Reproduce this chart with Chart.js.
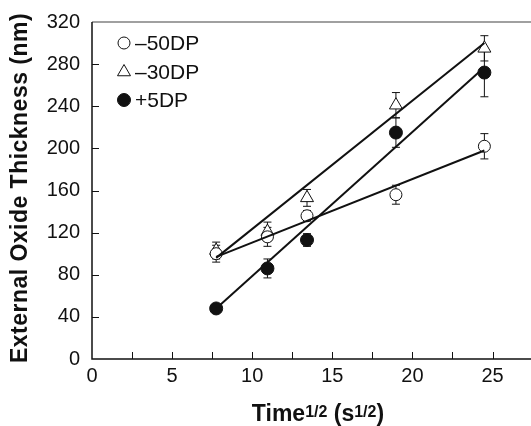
<!DOCTYPE html>
<html>
<head>
<meta charset="utf-8">
<script src="https://cdn.jsdelivr.net/npm/chart.js@4.4.1/dist/chart.umd.min.js"></script>
<style>
  html, body { margin: 0; padding: 0; background: #fff; overflow: hidden; }
  #wrap { width: 531px; height: 426px; }
</style>
</head>
<body>
<div id="wrap"><canvas id="chart"></canvas></div>
<script>
/* global Chart */
// sqrt(time) values (s^1/2)
const timeRoot = [7.75, 10.95, 13.42, 18.97, 24.49];

const m50Thickness = [100, 116, 136, 156, 202];
const m50Err = [8, 9, 5, 9, 12];
const m30Thickness = [103, 121, 153, 241, 295];
const m30Err = [8, 9, 8, 12, 12];
const p5Thickness = [48, 86, 113, 215, 272];
const p5Err = [2, 9, 6, 14, 23];

// linear fit end points
const fitX = [7.75, 24.49];
const m50Fit = [97, 198];
const m30Fit = [96, 300];
const p5Fit = [48, 277];

const xTickLabels = [0, 5, 10, 15, 20, 25];
const xTickMarks = [2.5, 5, 7.5, 10, 12.5, 15, 17.5, 20, 22.5, 25];
const yTickMarks = [40, 80, 120, 160, 200, 240, 280];

const seriesNames = ["\u201350DP", "\u201330DP", "+5DP"];

const FONT = "'Liberation Sans', Arial, sans-serif";

function pts(ys) {
  return ys.map((y, i) => ({ x: timeRoot[i], y: y }));
}
function fitPts(ys) {
  return ys.map((y, i) => ({ x: fitX[i], y: y }));
}

const markerStyles = [
  { pointStyle: "circle", radius: 6, fill: "#fff" },
  { pointStyle: "triangle", radius: 7.5, fill: "#fff" },
  { pointStyle: "circle", radius: 6.5, fill: "#111" },
];

const errorSets = [m50Err, m30Err, p5Err];

const axesPlugin = {
  id: "axesPlugin",
  beforeDatasetsDraw(chart) {
    const { ctx } = chart;
    const xs = chart.scales.x;
    const ys = chart.scales.y;
    ctx.save();
    // error bars
    ctx.strokeStyle = "#111";
    ctx.lineWidth = 1;
    [0, 1, 2].forEach((d) => {
      const data = chart.data.datasets[d].data;
      data.forEach((p, i) => {
        const e = errorSets[d][i];
        const px = xs.getPixelForValue(p.x);
        const top = ys.getPixelForValue(p.y + e);
        const bot = ys.getPixelForValue(p.y - e);
        ctx.beginPath();
        ctx.moveTo(px, top);
        ctx.lineTo(px, bot);
        ctx.moveTo(px - 4, top);
        ctx.lineTo(px + 4, top);
        ctx.moveTo(px - 4, bot);
        ctx.lineTo(px + 4, bot);
        ctx.stroke();
      });
    });
    ctx.restore();
  },
  afterDraw(chart) {
    const { ctx, chartArea } = chart;
    const xs = chart.scales.x;
    const ys = chart.scales.y;
    ctx.save();
    // top border (grey)
    ctx.strokeStyle = "#808080";
    ctx.lineWidth = 1.5;
    ctx.beginPath();
    ctx.moveTo(chartArea.left, chartArea.top);
    ctx.lineTo(chartArea.right, chartArea.top);
    ctx.stroke();
    // left + bottom axes
    ctx.strokeStyle = "#111";
    ctx.lineWidth = 1.5;
    ctx.beginPath();
    ctx.moveTo(chartArea.left, chartArea.top);
    ctx.lineTo(chartArea.left, chartArea.bottom);
    ctx.lineTo(chartArea.right, chartArea.bottom);
    ctx.stroke();
    // inward ticks
    ctx.lineWidth = 1;
    ctx.beginPath();
    xTickMarks.forEach((v) => {
      const px = Math.round(xs.getPixelForValue(v)) + 0.5;
      ctx.moveTo(px, chartArea.bottom);
      ctx.lineTo(px, chartArea.bottom - 7);
    });
    yTickMarks.forEach((v) => {
      const py = Math.round(ys.getPixelForValue(v)) + 0.5;
      ctx.moveTo(chartArea.left, py);
      ctx.lineTo(chartArea.left + 7, py);
    });
    ctx.stroke();

    // legend
    const legY = [43, 72, 100];
    ctx.font = "21px " + FONT;
    ctx.textBaseline = "middle";
    ctx.textAlign = "left";
    markerStyles.forEach((m, i) => {
      ctx.fillStyle = m.fill;
      ctx.strokeStyle = "#111";
      ctx.lineWidth = 1;
      Chart.helpers.drawPoint(ctx, { pointStyle: m.pointStyle, rotation: 0, radius: m.radius, borderWidth: 1 }, 124, legY[i]);
      ctx.fillStyle = "#111";
      ctx.fillText(seriesNames[i], 135, legY[i] + 1);
    });

    // y title, stretched to the reference length
    const yTitle = "External Oxide Thickness (nm)";
    ctx.save();
    ctx.font = "bold 23px " + FONT;
    const w = ctx.measureText(yTitle).width;
    ctx.letterSpacing = ((350 - w) / yTitle.length).toFixed(2) + "px";
    ctx.translate(27, 188);
    ctx.rotate(-Math.PI / 2);
    ctx.textAlign = "center";
    ctx.textBaseline = "alphabetic";
    ctx.fillStyle = "#111";
    ctx.fillText(yTitle, 0, 0);
    ctx.restore();

    // x title with superscripts
    const parts = [
      { t: "Time", sup: false },
      { t: "1/2", sup: true },
      { t: " (s", sup: false },
      { t: "1/2", sup: true },
      { t: ")", sup: false },
    ];
    const mainFont = "bold 23px " + FONT;
    const supFont = "bold 16px " + FONT;
    let total = 0;
    parts.forEach((p) => {
      ctx.font = p.sup ? supFont : mainFont;
      p.w = ctx.measureText(p.t).width;
      total += p.w;
    });
    let cx = 318 - total / 2;
    const base = 421;
    ctx.textAlign = "left";
    ctx.textBaseline = "alphabetic";
    ctx.fillStyle = "#111";
    parts.forEach((p) => {
      ctx.font = p.sup ? supFont : mainFont;
      ctx.fillText(p.t, cx, p.sup ? base - 4 : base);
      cx += p.w;
    });
    ctx.restore();
  },
};

const scatterBase = (data, i) => ({
  type: "scatter",
  data: data,
  pointStyle: markerStyles[i].pointStyle,
  pointRadius: markerStyles[i].radius,
  pointHoverRadius: markerStyles[i].radius,
  pointBackgroundColor: markerStyles[i].fill,
  pointBorderColor: "#111",
  pointBorderWidth: 1,
  showLine: false,
  order: 2,
});

const fitBase = (data) => ({
  type: "line",
  data: data,
  borderColor: "#111",
  borderWidth: 2,
  pointRadius: 0,
  fill: false,
  order: 1,
});

new Chart(document.getElementById("chart"), {
  type: "scatter",
  data: {
    datasets: [
      scatterBase(pts(m50Thickness), 0),
      scatterBase(pts(m30Thickness), 1),
      scatterBase(pts(p5Thickness), 2),
      fitBase(fitPts(m50Fit)),
      fitBase(fitPts(m30Fit)),
      fitBase(fitPts(p5Fit)),
    ],
  },
  options: {
    responsive: true,
    maintainAspectRatio: false,
    animation: false,
    layout: { autoPadding: false, padding: { top: 22, right: 0, left: 0, bottom: 0 } },
    scales: {
      x: {
        type: "linear",
        min: 0,
        max: 27.4,
        afterBuildTicks: (scale) => {
          scale.ticks = xTickLabels.map((v) => ({ value: v }));
        },
        afterFit: (scale) => {
          scale.height = 67;
          scale.paddingLeft = 0;
          scale.paddingRight = 0;
        },
        grid: { display: false, drawTicks: false },
        border: { display: false },
        ticks: {
          padding: 5,
          color: "#111",
          font: { family: FONT, size: 20 },
          maxRotation: 0,
        },
      },
      y: {
        type: "linear",
        min: 0,
        max: 320,
        afterFit: (scale) => {
          scale.width = 92;
          scale.paddingTop = 0;
          scale.paddingBottom = 0;
        },
        grid: { display: false, drawTicks: false },
        border: { display: false },
        ticks: {
          stepSize: 40,
          padding: 12,
          color: "#111",
          font: { family: FONT, size: 20 },
        },
      },
    },
    plugins: {
      legend: { display: false },
      tooltip: { enabled: false },
    },
  },
  plugins: [axesPlugin],
});
</script>
</body>
</html>
